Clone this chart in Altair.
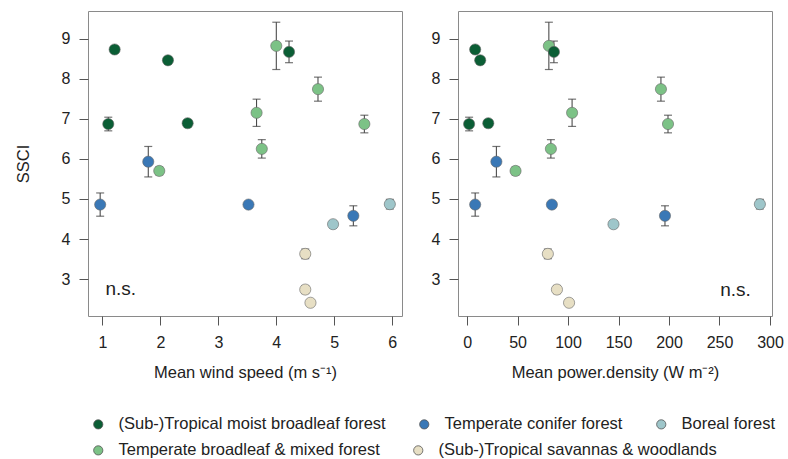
import altair as alt
import pandas as pd

# ---- data ----
BIOMES = [
    "(Sub-)Tropical moist broadleaf forest",
    "Temperate conifer forest",
    "Boreal forest",
    "Temperate broadleaf & mixed forest",
    "(Sub-)Tropical savannas & woodlands",
]
COLORS = ["#0b5e35", "#3a78b6", "#9ec6ca", "#7cc286", "#e7dfc4"]

biome_idx = [0, 0, 0, 0, 0, 3, 3, 3, 3, 3, 3, 1, 1, 1, 1, 2, 2, 4, 4, 4]
wind = [1.21, 2.13, 1.10, 2.47, 4.22,
        1.98, 4.00, 3.66, 3.75, 4.72, 5.52,
        1.79, 0.96, 3.52, 5.33,
        4.98, 5.96,
        4.50, 4.50, 4.59]
power = [8, 13, 2, 21, 86,
         48, 81, 104, 83, 192, 199,
         29, 8, 84, 196,
         145, 290,
         80, 89, 101]
ssci = [8.73, 8.46, 6.87, 6.89, 8.67,
        5.70, 8.82, 7.15, 6.25, 7.74, 6.87,
        5.93, 4.86, 4.86, 4.58,
        4.37, 4.87,
        3.63, 2.74, 2.41]
se = [0.06, 0.07, 0.17, 0.07, 0.27,
      0.10, 0.59, 0.34, 0.23, 0.30, 0.22,
      0.38, 0.29, 0.04, 0.25,
      0.08, 0.12,
      0.12, 0.10, 0.03]

WIND_TICKS = [1, 2, 3, 4, 5, 6]
POWER_TICKS = [0, 50, 100, 150, 200, 250, 300]
SSCI_TICKS = [3, 4, 5, 6, 7, 8, 9]

df = pd.DataFrame({
    "biome": [BIOMES[i] for i in biome_idx],
    "wind": wind,
    "power": power,
    "ssci": ssci,
    "lo": [s - e for s, e in zip(ssci, se)],
    "hi": [s + e for s, e in zip(ssci, se)],
})

FONT = "Liberation Sans"
ERR = "#3a3a3a"

ROW1 = BIOMES[:3]
ROW2 = BIOMES[3:]


def legend(y):
    return alt.Legend(
        title=None, orient="none", legendX=2, legendY=y, direction="horizontal",
        columnPadding=30, labelFont=FONT, labelFontSize=16.5, labelLimit=400,
        labelColor="#222", symbolSize=85, symbolStrokeColor="#555",
        symbolStrokeWidth=0.8, symbolType="circle", labelOffset=12,
    )


def panel(xfield, domain, ticks, xtitle, ytitle, ns_x, ns_y, ns_align):
    xs = alt.Scale(domain=domain, nice=False, zero=False)
    ys = alt.Scale(domain=[2.08, 9.69], nice=False, zero=False)
    xa = alt.Axis(values=ticks, title=xtitle, format="d")
    ya = alt.Axis(values=SSCI_TICKS, title=ytitle, format="d")
    base = alt.Chart(df)
    x = alt.X(f"{xfield}:Q", scale=xs, axis=xa)
    rule = base.mark_rule(color=ERR, strokeWidth=1).encode(
        x=x, y=alt.Y("lo:Q", scale=ys, axis=ya), y2="hi:Q")
    cap_lo = base.mark_tick(orient="horizontal", size=8, thickness=1.2, color=ERR).encode(
        x=x, y=alt.Y("lo:Q", scale=ys, axis=ya))
    cap_hi = base.mark_tick(orient="horizontal", size=8, thickness=1.2, color=ERR).encode(
        x=x, y=alt.Y("hi:Q", scale=ys, axis=ya))
    pt_kw = dict(filled=True, shape="circle", size=125, opacity=1,
                 stroke="#666", strokeWidth=0.6)
    pts2 = base.transform_filter(
        alt.FieldOneOfPredicate(field="biome", oneOf=ROW2)
    ).mark_point(**pt_kw).encode(
        x=x,
        y=alt.Y("ssci:Q", scale=ys, axis=ya),
        color=alt.Color("biome:N", scale=alt.Scale(domain=ROW2, range=COLORS[3:]),
                        legend=legend(431)),
    )
    pts1 = base.transform_filter(
        alt.FieldOneOfPredicate(field="biome", oneOf=ROW1)
    ).mark_point(**pt_kw).encode(
        x=x,
        y=alt.Y("ssci:Q", scale=ys, axis=ya),
        fill=alt.Fill("biome:N", scale=alt.Scale(domain=ROW1, range=COLORS[:3]),
                      legend=legend(405)),
    )
    ns = alt.Chart(pd.DataFrame({"t": ["n.s."]})).mark_text(
        align=ns_align, baseline="middle", fontSize=19, font=FONT, color="#222"
    ).encode(x=alt.X(datum=ns_x, scale=xs), y=alt.Y(datum=ns_y, scale=ys), text="t:N")
    return alt.layer(rule, cap_lo, cap_hi, pts2, pts1, ns).properties(width=314, height=305)


left = panel("wind", [0.75, 6.17], WIND_TICKS, "Mean wind speed (m  s⁻¹)", "SSCI", 1.05, 2.75, "left")
right = panel("power", [-9, 302], POWER_TICKS, "Mean power.density (W  m⁻²)", None, 281, 2.72, "right")

chart = alt.hconcat(left, right, spacing=27).resolve_scale(
    x="independent", y="independent"
).properties(
    padding={"left": 14, "top": 10, "right": 0, "bottom": 0}
).configure(font=FONT).configure_view(
    stroke="#8a8a8a", strokeWidth=1
).configure_axis(
    domain=False, grid=False, tickColor="#555", tickSize=9, tickWidth=1,
    labelFont=FONT, labelFontSize=16, labelColor="#222", labelPadding=9,
    titleFont=FONT, titleFontSize=16.5, titleFontWeight="normal", titleColor="#222",
).configure_axisY(titlePadding=30).configure_axisX(titlePadding=14)

chart.save("out.html", embed_options={"renderer": "svg", "actions": False})
